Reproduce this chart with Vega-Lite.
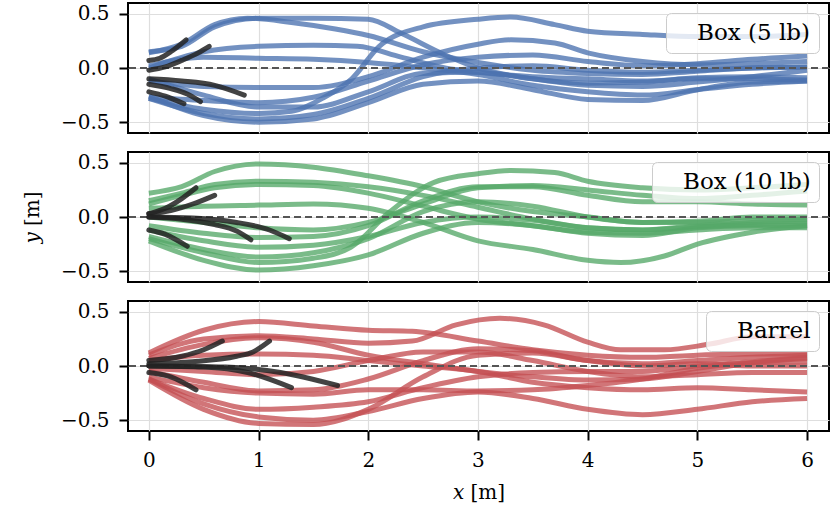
{
"$schema": "https://vega.github.io/schema/vega-lite/v6.json",
"padding": {"left": 21, "top": 2, "right": 1, "bottom": 2},
"config": {
  "font": "DejaVu Serif",
  "view": {"stroke": "black", "strokeWidth": 2},
  "axis": {"labelFont": "DejaVu Serif", "labelFontSize": 20, "labelColor": "black", "titleFont": "DejaVu Serif", "titleFontSize": 20, "titleFontWeight": "normal", "titleColor": "black", "gridColor": "#dedede", "gridWidth": 1.2, "domain": false, "tickColor": "black", "tickWidth": 2, "tickSize": 9, "labelPadding": 10},
  "legend": {"orient": "top-right", "offset": 10, "fillColor": "rgba(255,255,255,0.8)", "strokeColor": "#cccccc", "cornerRadius": 5, "padding": 8, "labelFont": "DejaVu Serif", "labelFontSize": 23, "labelColor": "black", "symbolOpacity": 0, "symbolSize": 0, "symbolStrokeWidth": 0, "labelOffset": 0},
  "concat": {"spacing": 17}
},
"datasets": {
"blue": [
{"id":"b1","s":"Box (5 lb)","x":0,"y":0.15},{"id":"b1","s":"Box (5 lb)","x":0.3,"y":0.2},{"id":"b1","s":"Box (5 lb)","x":0.6,"y":0.38},{"id":"b1","s":"Box (5 lb)","x":1,"y":0.46},{"id":"b1","s":"Box (5 lb)","x":1.5,"y":0.46},{"id":"b1","s":"Box (5 lb)","x":2,"y":0.45},{"id":"b1","s":"Box (5 lb)","x":2.3,"y":0.32},{"id":"b1","s":"Box (5 lb)","x":2.7,"y":0.12},{"id":"b1","s":"Box (5 lb)","x":3,"y":0},{"id":"b1","s":"Box (5 lb)","x":3.5,"y":-0.1},{"id":"b1","s":"Box (5 lb)","x":4,"y":-0.14},{"id":"b1","s":"Box (5 lb)","x":4.5,"y":-0.13},{"id":"b1","s":"Box (5 lb)","x":5,"y":-0.09},{"id":"b1","s":"Box (5 lb)","x":5.5,"y":-0.08},{"id":"b1","s":"Box (5 lb)","x":6,"y":-0.09},
{"id":"b2","s":"Box (5 lb)","x":0,"y":0.14},{"id":"b2","s":"Box (5 lb)","x":0.3,"y":0.22},{"id":"b2","s":"Box (5 lb)","x":0.6,"y":0.4},{"id":"b2","s":"Box (5 lb)","x":0.9,"y":0.46},{"id":"b2","s":"Box (5 lb)","x":1.3,"y":0.42},{"id":"b2","s":"Box (5 lb)","x":1.7,"y":0.36},{"id":"b2","s":"Box (5 lb)","x":2,"y":0.3},{"id":"b2","s":"Box (5 lb)","x":2.5,"y":0.15},{"id":"b2","s":"Box (5 lb)","x":3,"y":0.05},{"id":"b2","s":"Box (5 lb)","x":3.5,"y":-0.02},{"id":"b2","s":"Box (5 lb)","x":4,"y":-0.05},{"id":"b2","s":"Box (5 lb)","x":4.5,"y":-0.06},{"id":"b2","s":"Box (5 lb)","x":5,"y":-0.03},{"id":"b2","s":"Box (5 lb)","x":5.5,"y":0},{"id":"b2","s":"Box (5 lb)","x":6,"y":0.01},
{"id":"b3","s":"Box (5 lb)","x":0,"y":0},{"id":"b3","s":"Box (5 lb)","x":0.5,"y":0.15},{"id":"b3","s":"Box (5 lb)","x":1,"y":0.2},{"id":"b3","s":"Box (5 lb)","x":1.5,"y":0.21},{"id":"b3","s":"Box (5 lb)","x":1.9,"y":0.2},{"id":"b3","s":"Box (5 lb)","x":2.3,"y":0.1},{"id":"b3","s":"Box (5 lb)","x":2.7,"y":0},{"id":"b3","s":"Box (5 lb)","x":3,"y":-0.04},{"id":"b3","s":"Box (5 lb)","x":3.5,"y":-0.08},{"id":"b3","s":"Box (5 lb)","x":4,"y":-0.1},{"id":"b3","s":"Box (5 lb)","x":4.5,"y":-0.12},{"id":"b3","s":"Box (5 lb)","x":5,"y":-0.1},{"id":"b3","s":"Box (5 lb)","x":5.5,"y":-0.1},{"id":"b3","s":"Box (5 lb)","x":6,"y":-0.11},
{"id":"b4","s":"Box (5 lb)","x":0,"y":0.02},{"id":"b4","s":"Box (5 lb)","x":0.5,"y":0.1},{"id":"b4","s":"Box (5 lb)","x":1,"y":0.09},{"id":"b4","s":"Box (5 lb)","x":1.5,"y":0.08},{"id":"b4","s":"Box (5 lb)","x":2,"y":0.05},{"id":"b4","s":"Box (5 lb)","x":2.5,"y":0},{"id":"b4","s":"Box (5 lb)","x":3,"y":-0.06},{"id":"b4","s":"Box (5 lb)","x":3.5,"y":-0.16},{"id":"b4","s":"Box (5 lb)","x":4,"y":-0.22},{"id":"b4","s":"Box (5 lb)","x":4.5,"y":-0.25},{"id":"b4","s":"Box (5 lb)","x":5,"y":-0.2},{"id":"b4","s":"Box (5 lb)","x":5.5,"y":-0.15},{"id":"b4","s":"Box (5 lb)","x":6,"y":-0.12},
{"id":"b5","s":"Box (5 lb)","x":0,"y":-0.12},{"id":"b5","s":"Box (5 lb)","x":0.5,"y":-0.17},{"id":"b5","s":"Box (5 lb)","x":1,"y":-0.18},{"id":"b5","s":"Box (5 lb)","x":1.5,"y":-0.18},{"id":"b5","s":"Box (5 lb)","x":2,"y":-0.08},{"id":"b5","s":"Box (5 lb)","x":2.5,"y":0.1},{"id":"b5","s":"Box (5 lb)","x":3,"y":0.22},{"id":"b5","s":"Box (5 lb)","x":3.3,"y":0.26},{"id":"b5","s":"Box (5 lb)","x":3.7,"y":0.23},{"id":"b5","s":"Box (5 lb)","x":4,"y":0.14},{"id":"b5","s":"Box (5 lb)","x":4.5,"y":0.06},{"id":"b5","s":"Box (5 lb)","x":5,"y":0.03},{"id":"b5","s":"Box (5 lb)","x":5.5,"y":0.04},{"id":"b5","s":"Box (5 lb)","x":6,"y":0.06},
{"id":"b6","s":"Box (5 lb)","x":0,"y":-0.27},{"id":"b6","s":"Box (5 lb)","x":0.5,"y":-0.3},{"id":"b6","s":"Box (5 lb)","x":1,"y":-0.32},{"id":"b6","s":"Box (5 lb)","x":1.5,"y":-0.27},{"id":"b6","s":"Box (5 lb)","x":2,"y":-0.12},{"id":"b6","s":"Box (5 lb)","x":2.5,"y":0.03},{"id":"b6","s":"Box (5 lb)","x":3,"y":0.1},{"id":"b6","s":"Box (5 lb)","x":3.5,"y":0.12},{"id":"b6","s":"Box (5 lb)","x":4,"y":0.06},{"id":"b6","s":"Box (5 lb)","x":4.5,"y":0.02},{"id":"b6","s":"Box (5 lb)","x":5,"y":0.04},{"id":"b6","s":"Box (5 lb)","x":5.5,"y":0.08},{"id":"b6","s":"Box (5 lb)","x":6,"y":0.11},
{"id":"b7","s":"Box (5 lb)","x":0,"y":-0.28},{"id":"b7","s":"Box (5 lb)","x":0.5,"y":-0.38},{"id":"b7","s":"Box (5 lb)","x":1,"y":-0.42},{"id":"b7","s":"Box (5 lb)","x":1.3,"y":-0.4},{"id":"b7","s":"Box (5 lb)","x":1.6,"y":-0.27},{"id":"b7","s":"Box (5 lb)","x":1.85,"y":-0.1},{"id":"b7","s":"Box (5 lb)","x":2.1,"y":0.2},{"id":"b7","s":"Box (5 lb)","x":2.5,"y":0.38},{"id":"b7","s":"Box (5 lb)","x":3,"y":0.45},{"id":"b7","s":"Box (5 lb)","x":3.3,"y":0.47},{"id":"b7","s":"Box (5 lb)","x":3.7,"y":0.4},{"id":"b7","s":"Box (5 lb)","x":4,"y":0.34},{"id":"b7","s":"Box (5 lb)","x":4.5,"y":0.31},{"id":"b7","s":"Box (5 lb)","x":5,"y":0.29},{"id":"b7","s":"Box (5 lb)","x":5.5,"y":0.29},{"id":"b7","s":"Box (5 lb)","x":6,"y":0.31},
{"id":"b8","s":"Box (5 lb)","x":0,"y":-0.28},{"id":"b8","s":"Box (5 lb)","x":0.5,"y":-0.42},{"id":"b8","s":"Box (5 lb)","x":1,"y":-0.47},{"id":"b8","s":"Box (5 lb)","x":1.5,"y":-0.43},{"id":"b8","s":"Box (5 lb)","x":2,"y":-0.28},{"id":"b8","s":"Box (5 lb)","x":2.5,"y":-0.08},{"id":"b8","s":"Box (5 lb)","x":3,"y":0},{"id":"b8","s":"Box (5 lb)","x":3.5,"y":0.02},{"id":"b8","s":"Box (5 lb)","x":4,"y":-0.02},{"id":"b8","s":"Box (5 lb)","x":4.5,"y":-0.04},{"id":"b8","s":"Box (5 lb)","x":5,"y":-0.02},{"id":"b8","s":"Box (5 lb)","x":5.5,"y":0},{"id":"b8","s":"Box (5 lb)","x":6,"y":0.01},
{"id":"b9","s":"Box (5 lb)","x":0,"y":-0.26},{"id":"b9","s":"Box (5 lb)","x":0.5,"y":-0.44},{"id":"b9","s":"Box (5 lb)","x":1,"y":-0.5},{"id":"b9","s":"Box (5 lb)","x":1.5,"y":-0.47},{"id":"b9","s":"Box (5 lb)","x":2,"y":-0.32},{"id":"b9","s":"Box (5 lb)","x":2.5,"y":-0.15},{"id":"b9","s":"Box (5 lb)","x":3,"y":-0.12},{"id":"b9","s":"Box (5 lb)","x":3.5,"y":-0.2},{"id":"b9","s":"Box (5 lb)","x":4,"y":-0.29},{"id":"b9","s":"Box (5 lb)","x":4.5,"y":-0.3},{"id":"b9","s":"Box (5 lb)","x":5,"y":-0.2},{"id":"b9","s":"Box (5 lb)","x":5.5,"y":-0.13},{"id":"b9","s":"Box (5 lb)","x":6,"y":-0.12},
{"id":"b10","s":"Box (5 lb)","x":0,"y":-0.1},{"id":"b10","s":"Box (5 lb)","x":0.5,"y":-0.25},{"id":"b10","s":"Box (5 lb)","x":1,"y":-0.36},{"id":"b10","s":"Box (5 lb)","x":1.5,"y":-0.36},{"id":"b10","s":"Box (5 lb)","x":2,"y":-0.22},{"id":"b10","s":"Box (5 lb)","x":2.5,"y":-0.05},{"id":"b10","s":"Box (5 lb)","x":3,"y":-0.04},{"id":"b10","s":"Box (5 lb)","x":3.5,"y":-0.1},{"id":"b10","s":"Box (5 lb)","x":4,"y":-0.16},{"id":"b10","s":"Box (5 lb)","x":4.5,"y":-0.17},{"id":"b10","s":"Box (5 lb)","x":5,"y":-0.13},{"id":"b10","s":"Box (5 lb)","x":5.5,"y":-0.08},{"id":"b10","s":"Box (5 lb)","x":6,"y":-0.02}
],
"blueK": [
{"id":"k1","x":0,"y":0.07},{"id":"k1","x":0.1,"y":0.09},{"id":"k1","x":0.2,"y":0.15},{"id":"k1","x":0.34,"y":0.26},
{"id":"k2","x":0,"y":-0.02},{"id":"k2","x":0.15,"y":0.01},{"id":"k2","x":0.3,"y":0.07},{"id":"k2","x":0.45,"y":0.14},{"id":"k2","x":0.55,"y":0.2},
{"id":"k3","x":0,"y":-0.1},{"id":"k3","x":0.3,"y":-0.12},{"id":"k3","x":0.6,"y":-0.16},{"id":"k3","x":0.87,"y":-0.25},
{"id":"k4","x":0,"y":-0.15},{"id":"k4","x":0.2,"y":-0.19},{"id":"k4","x":0.35,"y":-0.24},{"id":"k4","x":0.47,"y":-0.31},
{"id":"k5","x":0,"y":-0.22},{"id":"k5","x":0.15,"y":-0.26},{"id":"k5","x":0.32,"y":-0.33}
],
"green": [
{"id":"g1","s":"Box (10 lb)","x":0,"y":0.22},{"id":"g1","s":"Box (10 lb)","x":0.3,"y":0.28},{"id":"g1","s":"Box (10 lb)","x":0.6,"y":0.42},{"id":"g1","s":"Box (10 lb)","x":1,"y":0.49},{"id":"g1","s":"Box (10 lb)","x":1.5,"y":0.46},{"id":"g1","s":"Box (10 lb)","x":2,"y":0.38},{"id":"g1","s":"Box (10 lb)","x":2.5,"y":0.28},{"id":"g1","s":"Box (10 lb)","x":3,"y":0.14},{"id":"g1","s":"Box (10 lb)","x":3.5,"y":0.05},{"id":"g1","s":"Box (10 lb)","x":4,"y":0},{"id":"g1","s":"Box (10 lb)","x":4.5,"y":-0.05},{"id":"g1","s":"Box (10 lb)","x":5,"y":-0.04},{"id":"g1","s":"Box (10 lb)","x":5.5,"y":0},{"id":"g1","s":"Box (10 lb)","x":6,"y":0},
{"id":"g2","s":"Box (10 lb)","x":0,"y":0.15},{"id":"g2","s":"Box (10 lb)","x":0.3,"y":0.22},{"id":"g2","s":"Box (10 lb)","x":0.6,"y":0.3},{"id":"g2","s":"Box (10 lb)","x":1,"y":0.33},{"id":"g2","s":"Box (10 lb)","x":1.5,"y":0.32},{"id":"g2","s":"Box (10 lb)","x":2,"y":0.28},{"id":"g2","s":"Box (10 lb)","x":2.5,"y":0.2},{"id":"g2","s":"Box (10 lb)","x":3,"y":0.09},{"id":"g2","s":"Box (10 lb)","x":3.5,"y":-0.02},{"id":"g2","s":"Box (10 lb)","x":4,"y":-0.1},{"id":"g2","s":"Box (10 lb)","x":4.5,"y":-0.12},{"id":"g2","s":"Box (10 lb)","x":5,"y":-0.09},{"id":"g2","s":"Box (10 lb)","x":5.5,"y":-0.07},{"id":"g2","s":"Box (10 lb)","x":6,"y":-0.06},
{"id":"g3","s":"Box (10 lb)","x":0,"y":0.12},{"id":"g3","s":"Box (10 lb)","x":0.3,"y":0.2},{"id":"g3","s":"Box (10 lb)","x":0.6,"y":0.27},{"id":"g3","s":"Box (10 lb)","x":1,"y":0.3},{"id":"g3","s":"Box (10 lb)","x":1.5,"y":0.29},{"id":"g3","s":"Box (10 lb)","x":2,"y":0.22},{"id":"g3","s":"Box (10 lb)","x":2.5,"y":0.1},{"id":"g3","s":"Box (10 lb)","x":3,"y":-0.02},{"id":"g3","s":"Box (10 lb)","x":3.5,"y":-0.08},{"id":"g3","s":"Box (10 lb)","x":4,"y":-0.14},{"id":"g3","s":"Box (10 lb)","x":4.5,"y":-0.15},{"id":"g3","s":"Box (10 lb)","x":5,"y":-0.12},{"id":"g3","s":"Box (10 lb)","x":5.5,"y":-0.1},{"id":"g3","s":"Box (10 lb)","x":6,"y":-0.1},
{"id":"g4","s":"Box (10 lb)","x":0,"y":0.08},{"id":"g4","s":"Box (10 lb)","x":0.5,"y":0.1},{"id":"g4","s":"Box (10 lb)","x":1,"y":0.11},{"id":"g4","s":"Box (10 lb)","x":1.5,"y":0.12},{"id":"g4","s":"Box (10 lb)","x":2,"y":0.08},{"id":"g4","s":"Box (10 lb)","x":2.5,"y":-0.05},{"id":"g4","s":"Box (10 lb)","x":3,"y":-0.22},{"id":"g4","s":"Box (10 lb)","x":3.5,"y":-0.3},{"id":"g4","s":"Box (10 lb)","x":4,"y":-0.4},{"id":"g4","s":"Box (10 lb)","x":4.3,"y":-0.42},{"id":"g4","s":"Box (10 lb)","x":4.7,"y":-0.36},{"id":"g4","s":"Box (10 lb)","x":5,"y":-0.25},{"id":"g4","s":"Box (10 lb)","x":5.5,"y":-0.14},{"id":"g4","s":"Box (10 lb)","x":6,"y":-0.08},
{"id":"g5","s":"Box (10 lb)","x":0,"y":-0.08},{"id":"g5","s":"Box (10 lb)","x":0.5,"y":-0.15},{"id":"g5","s":"Box (10 lb)","x":1,"y":-0.19},{"id":"g5","s":"Box (10 lb)","x":1.5,"y":-0.18},{"id":"g5","s":"Box (10 lb)","x":2,"y":-0.08},{"id":"g5","s":"Box (10 lb)","x":2.5,"y":0.15},{"id":"g5","s":"Box (10 lb)","x":3,"y":0.28},{"id":"g5","s":"Box (10 lb)","x":3.5,"y":0.28},{"id":"g5","s":"Box (10 lb)","x":4,"y":0.2},{"id":"g5","s":"Box (10 lb)","x":4.5,"y":0.14},{"id":"g5","s":"Box (10 lb)","x":5,"y":0.14},{"id":"g5","s":"Box (10 lb)","x":5.5,"y":0.12},{"id":"g5","s":"Box (10 lb)","x":6,"y":0.11},
{"id":"g6","s":"Box (10 lb)","x":0,"y":-0.2},{"id":"g6","s":"Box (10 lb)","x":0.5,"y":-0.33},{"id":"g6","s":"Box (10 lb)","x":1,"y":-0.42},{"id":"g6","s":"Box (10 lb)","x":1.5,"y":-0.38},{"id":"g6","s":"Box (10 lb)","x":1.84,"y":-0.28},{"id":"g6","s":"Box (10 lb)","x":2.2,"y":0.05},{"id":"g6","s":"Box (10 lb)","x":2.6,"y":0.32},{"id":"g6","s":"Box (10 lb)","x":3,"y":0.4},{"id":"g6","s":"Box (10 lb)","x":3.3,"y":0.43},{"id":"g6","s":"Box (10 lb)","x":3.7,"y":0.41},{"id":"g6","s":"Box (10 lb)","x":4,"y":0.33},{"id":"g6","s":"Box (10 lb)","x":4.5,"y":0.27},{"id":"g6","s":"Box (10 lb)","x":5,"y":0.25},{"id":"g6","s":"Box (10 lb)","x":5.5,"y":0.27},{"id":"g6","s":"Box (10 lb)","x":6,"y":0.3},
{"id":"g7","s":"Box (10 lb)","x":0,"y":-0.18},{"id":"g7","s":"Box (10 lb)","x":0.5,"y":-0.3},{"id":"g7","s":"Box (10 lb)","x":1,"y":-0.37},{"id":"g7","s":"Box (10 lb)","x":1.5,"y":-0.33},{"id":"g7","s":"Box (10 lb)","x":2,"y":-0.2},{"id":"g7","s":"Box (10 lb)","x":2.5,"y":0.05},{"id":"g7","s":"Box (10 lb)","x":3,"y":0.14},{"id":"g7","s":"Box (10 lb)","x":3.5,"y":0.1},{"id":"g7","s":"Box (10 lb)","x":4,"y":0},{"id":"g7","s":"Box (10 lb)","x":4.5,"y":-0.05},{"id":"g7","s":"Box (10 lb)","x":5,"y":-0.05},{"id":"g7","s":"Box (10 lb)","x":5.5,"y":-0.03},{"id":"g7","s":"Box (10 lb)","x":6,"y":-0.02},
{"id":"g8","s":"Box (10 lb)","x":0,"y":-0.12},{"id":"g8","s":"Box (10 lb)","x":0.5,"y":-0.22},{"id":"g8","s":"Box (10 lb)","x":1,"y":-0.28},{"id":"g8","s":"Box (10 lb)","x":1.5,"y":-0.26},{"id":"g8","s":"Box (10 lb)","x":2,"y":-0.18},{"id":"g8","s":"Box (10 lb)","x":2.5,"y":-0.05},{"id":"g8","s":"Box (10 lb)","x":3,"y":0},{"id":"g8","s":"Box (10 lb)","x":3.5,"y":-0.03},{"id":"g8","s":"Box (10 lb)","x":4,"y":-0.1},{"id":"g8","s":"Box (10 lb)","x":4.5,"y":-0.12},{"id":"g8","s":"Box (10 lb)","x":5,"y":-0.08},{"id":"g8","s":"Box (10 lb)","x":5.5,"y":-0.05},{"id":"g8","s":"Box (10 lb)","x":6,"y":-0.04},
{"id":"g9","s":"Box (10 lb)","x":0,"y":-0.22},{"id":"g9","s":"Box (10 lb)","x":0.5,"y":-0.4},{"id":"g9","s":"Box (10 lb)","x":1,"y":-0.49},{"id":"g9","s":"Box (10 lb)","x":1.5,"y":-0.45},{"id":"g9","s":"Box (10 lb)","x":2,"y":-0.35},{"id":"g9","s":"Box (10 lb)","x":2.5,"y":-0.15},{"id":"g9","s":"Box (10 lb)","x":3,"y":-0.05},{"id":"g9","s":"Box (10 lb)","x":3.5,"y":-0.08},{"id":"g9","s":"Box (10 lb)","x":4,"y":-0.15},{"id":"g9","s":"Box (10 lb)","x":4.5,"y":-0.17},{"id":"g9","s":"Box (10 lb)","x":5,"y":-0.1},{"id":"g9","s":"Box (10 lb)","x":5.5,"y":-0.08},{"id":"g9","s":"Box (10 lb)","x":6,"y":-0.08},
{"id":"g10","s":"Box (10 lb)","x":0,"y":0},{"id":"g10","s":"Box (10 lb)","x":0.5,"y":-0.05},{"id":"g10","s":"Box (10 lb)","x":1,"y":-0.1},{"id":"g10","s":"Box (10 lb)","x":1.5,"y":-0.12},{"id":"g10","s":"Box (10 lb)","x":2,"y":-0.05},{"id":"g10","s":"Box (10 lb)","x":2.5,"y":0.12},{"id":"g10","s":"Box (10 lb)","x":3,"y":0.27},{"id":"g10","s":"Box (10 lb)","x":3.5,"y":0.29},{"id":"g10","s":"Box (10 lb)","x":4,"y":0.25},{"id":"g10","s":"Box (10 lb)","x":4.5,"y":0.2},{"id":"g10","s":"Box (10 lb)","x":5,"y":0.17},{"id":"g10","s":"Box (10 lb)","x":5.5,"y":0.2},{"id":"g10","s":"Box (10 lb)","x":6,"y":0.24}
],
"greenK": [
{"id":"k1","x":0,"y":0.03},{"id":"k1","x":0.15,"y":0.08},{"id":"k1","x":0.3,"y":0.17},{"id":"k1","x":0.43,"y":0.27},
{"id":"k2","x":0,"y":0.03},{"id":"k2","x":0.2,"y":0.06},{"id":"k2","x":0.4,"y":0.12},{"id":"k2","x":0.6,"y":0.2},
{"id":"k3","x":0,"y":0},{"id":"k3","x":0.3,"y":-0.02},{"id":"k3","x":0.6,"y":-0.07},{"id":"k3","x":0.8,"y":-0.13},{"id":"k3","x":0.93,"y":-0.21},
{"id":"k4","x":0,"y":0},{"id":"k4","x":0.4,"y":-0.01},{"id":"k4","x":0.8,"y":-0.05},{"id":"k4","x":1.1,"y":-0.12},{"id":"k4","x":1.28,"y":-0.2},
{"id":"k5","x":0,"y":-0.12},{"id":"k5","x":0.15,"y":-0.16},{"id":"k5","x":0.35,"y":-0.27}
],
"red": [
{"id":"r1","s":"Barrel","x":0,"y":0.12},{"id":"r1","s":"Barrel","x":0.5,"y":0.33},{"id":"r1","s":"Barrel","x":1,"y":0.41},{"id":"r1","s":"Barrel","x":1.5,"y":0.37},{"id":"r1","s":"Barrel","x":2,"y":0.33},{"id":"r1","s":"Barrel","x":2.4,"y":0.32},{"id":"r1","s":"Barrel","x":3,"y":0.23},{"id":"r1","s":"Barrel","x":3.5,"y":0.15},{"id":"r1","s":"Barrel","x":4,"y":0.1},{"id":"r1","s":"Barrel","x":4.5,"y":0.08},{"id":"r1","s":"Barrel","x":5,"y":0.1},{"id":"r1","s":"Barrel","x":5.5,"y":0.11},{"id":"r1","s":"Barrel","x":6,"y":0.11},
{"id":"r2","s":"Barrel","x":0,"y":0.1},{"id":"r2","s":"Barrel","x":0.5,"y":0.25},{"id":"r2","s":"Barrel","x":1,"y":0.28},{"id":"r2","s":"Barrel","x":1.5,"y":0.25},{"id":"r2","s":"Barrel","x":2,"y":0.21},{"id":"r2","s":"Barrel","x":2.4,"y":0.23},{"id":"r2","s":"Barrel","x":2.8,"y":0.38},{"id":"r2","s":"Barrel","x":3.2,"y":0.44},{"id":"r2","s":"Barrel","x":3.6,"y":0.38},{"id":"r2","s":"Barrel","x":4,"y":0.22},{"id":"r2","s":"Barrel","x":4.3,"y":0.15},{"id":"r2","s":"Barrel","x":4.7,"y":0.15},{"id":"r2","s":"Barrel","x":5.1,"y":0.2},{"id":"r2","s":"Barrel","x":5.5,"y":0.27},{"id":"r2","s":"Barrel","x":6,"y":0.27},
{"id":"r3","s":"Barrel","x":0,"y":0.07},{"id":"r3","s":"Barrel","x":0.5,"y":0.2},{"id":"r3","s":"Barrel","x":1,"y":0.26},{"id":"r3","s":"Barrel","x":1.5,"y":0.22},{"id":"r3","s":"Barrel","x":2,"y":0.1},{"id":"r3","s":"Barrel","x":2.5,"y":0.02},{"id":"r3","s":"Barrel","x":3,"y":-0.05},{"id":"r3","s":"Barrel","x":3.5,"y":-0.1},{"id":"r3","s":"Barrel","x":4,"y":-0.13},{"id":"r3","s":"Barrel","x":4.5,"y":-0.12},{"id":"r3","s":"Barrel","x":5,"y":-0.05},{"id":"r3","s":"Barrel","x":5.5,"y":0.03},{"id":"r3","s":"Barrel","x":6,"y":0.07},
{"id":"r4","s":"Barrel","x":0,"y":0.05},{"id":"r4","s":"Barrel","x":0.5,"y":0.1},{"id":"r4","s":"Barrel","x":1,"y":0.11},{"id":"r4","s":"Barrel","x":1.5,"y":0.1},{"id":"r4","s":"Barrel","x":2,"y":0.05},{"id":"r4","s":"Barrel","x":2.5,"y":0},{"id":"r4","s":"Barrel","x":3,"y":-0.05},{"id":"r4","s":"Barrel","x":3.5,"y":-0.15},{"id":"r4","s":"Barrel","x":4,"y":-0.2},{"id":"r4","s":"Barrel","x":4.5,"y":-0.22},{"id":"r4","s":"Barrel","x":5,"y":-0.2},{"id":"r4","s":"Barrel","x":5.5,"y":-0.22},{"id":"r4","s":"Barrel","x":6,"y":-0.24},
{"id":"r5","s":"Barrel","x":0,"y":-0.02},{"id":"r5","s":"Barrel","x":0.5,"y":-0.05},{"id":"r5","s":"Barrel","x":1,"y":-0.08},{"id":"r5","s":"Barrel","x":1.5,"y":-0.05},{"id":"r5","s":"Barrel","x":2,"y":0.05},{"id":"r5","s":"Barrel","x":2.5,"y":0.13},{"id":"r5","s":"Barrel","x":3,"y":0.13},{"id":"r5","s":"Barrel","x":3.5,"y":0.05},{"id":"r5","s":"Barrel","x":4,"y":-0.05},{"id":"r5","s":"Barrel","x":4.5,"y":-0.1},{"id":"r5","s":"Barrel","x":5,"y":-0.08},{"id":"r5","s":"Barrel","x":5.5,"y":-0.06},{"id":"r5","s":"Barrel","x":6,"y":-0.06},
{"id":"r6","s":"Barrel","x":0,"y":-0.05},{"id":"r6","s":"Barrel","x":0.5,"y":-0.15},{"id":"r6","s":"Barrel","x":1,"y":-0.23},{"id":"r6","s":"Barrel","x":1.5,"y":-0.22},{"id":"r6","s":"Barrel","x":2,"y":-0.12},{"id":"r6","s":"Barrel","x":2.5,"y":0.05},{"id":"r6","s":"Barrel","x":3,"y":0.16},{"id":"r6","s":"Barrel","x":3.5,"y":0.14},{"id":"r6","s":"Barrel","x":4,"y":0.05},{"id":"r6","s":"Barrel","x":4.5,"y":0.02},{"id":"r6","s":"Barrel","x":5,"y":0.05},{"id":"r6","s":"Barrel","x":5.5,"y":0.08},{"id":"r6","s":"Barrel","x":6,"y":0.1},
{"id":"r7","s":"Barrel","x":0,"y":-0.1},{"id":"r7","s":"Barrel","x":0.5,"y":-0.2},{"id":"r7","s":"Barrel","x":1,"y":-0.25},{"id":"r7","s":"Barrel","x":1.5,"y":-0.26},{"id":"r7","s":"Barrel","x":2,"y":-0.22},{"id":"r7","s":"Barrel","x":2.5,"y":-0.22},{"id":"r7","s":"Barrel","x":3,"y":-0.23},{"id":"r7","s":"Barrel","x":3.5,"y":-0.22},{"id":"r7","s":"Barrel","x":4,"y":-0.18},{"id":"r7","s":"Barrel","x":4.5,"y":-0.12},{"id":"r7","s":"Barrel","x":5,"y":-0.02},{"id":"r7","s":"Barrel","x":5.5,"y":0.03},{"id":"r7","s":"Barrel","x":6,"y":0.04},
{"id":"r8","s":"Barrel","x":0,"y":-0.12},{"id":"r8","s":"Barrel","x":0.5,"y":-0.3},{"id":"r8","s":"Barrel","x":1,"y":-0.4},{"id":"r8","s":"Barrel","x":1.5,"y":-0.38},{"id":"r8","s":"Barrel","x":2,"y":-0.33},{"id":"r8","s":"Barrel","x":2.5,"y":-0.2},{"id":"r8","s":"Barrel","x":3,"y":-0.1},{"id":"r8","s":"Barrel","x":3.5,"y":-0.06},{"id":"r8","s":"Barrel","x":4,"y":-0.05},{"id":"r8","s":"Barrel","x":4.5,"y":-0.05},{"id":"r8","s":"Barrel","x":5,"y":0},{"id":"r8","s":"Barrel","x":5.5,"y":0.04},{"id":"r8","s":"Barrel","x":6,"y":0.08},
{"id":"r9","s":"Barrel","x":0,"y":-0.12},{"id":"r9","s":"Barrel","x":0.5,"y":-0.35},{"id":"r9","s":"Barrel","x":1,"y":-0.47},{"id":"r9","s":"Barrel","x":1.5,"y":-0.5},{"id":"r9","s":"Barrel","x":2,"y":-0.42},{"id":"r9","s":"Barrel","x":2.5,"y":-0.3},{"id":"r9","s":"Barrel","x":3,"y":-0.24},{"id":"r9","s":"Barrel","x":3.5,"y":-0.3},{"id":"r9","s":"Barrel","x":4,"y":-0.4},{"id":"r9","s":"Barrel","x":4.5,"y":-0.45},{"id":"r9","s":"Barrel","x":5,"y":-0.4},{"id":"r9","s":"Barrel","x":5.5,"y":-0.33},{"id":"r9","s":"Barrel","x":6,"y":-0.3},
{"id":"r10","s":"Barrel","x":0,"y":-0.13},{"id":"r10","s":"Barrel","x":0.5,"y":-0.4},{"id":"r10","s":"Barrel","x":1,"y":-0.53},{"id":"r10","s":"Barrel","x":1.5,"y":-0.54},{"id":"r10","s":"Barrel","x":2,"y":-0.4},{"id":"r10","s":"Barrel","x":2.5,"y":-0.1},{"id":"r10","s":"Barrel","x":3,"y":0.1},{"id":"r10","s":"Barrel","x":3.5,"y":0.12},{"id":"r10","s":"Barrel","x":4,"y":0.05},{"id":"r10","s":"Barrel","x":4.5,"y":0},{"id":"r10","s":"Barrel","x":5,"y":0.02},{"id":"r10","s":"Barrel","x":5.5,"y":0},{"id":"r10","s":"Barrel","x":6,"y":0}
],
"redK": [
{"id":"k1","x":0,"y":0.05},{"id":"k1","x":0.3,"y":0.09},{"id":"k1","x":0.5,"y":0.15},{"id":"k1","x":0.67,"y":0.23},
{"id":"k2","x":0,"y":0.02},{"id":"k2","x":0.4,"y":0.04},{"id":"k2","x":0.8,"y":0.09},{"id":"k2","x":0.95,"y":0.13},{"id":"k2","x":1.1,"y":0.23},
{"id":"k3","x":0,"y":0},{"id":"k3","x":0.5,"y":-0.01},{"id":"k3","x":0.9,"y":-0.06},{"id":"k3","x":1.3,"y":-0.2},
{"id":"k4","x":0,"y":0},{"id":"k4","x":0.7,"y":-0.01},{"id":"k4","x":1.2,"y":-0.06},{"id":"k4","x":1.72,"y":-0.18},
{"id":"k5","x":0,"y":-0.06},{"id":"k5","x":0.2,"y":-0.1},{"id":"k5","x":0.43,"y":-0.22}
]
},
"vconcat": [
{"width": 701, "height": 130, "layer": [
 {"data": {"name": "blue"}, "mark": {"type": "line", "interpolate": "monotone", "strokeWidth": 5, "opacity": 0.78},
  "encoding": {
   "x": {"field": "x", "type": "quantitative", "scale": {"domain": [-0.19, 6.2], "nice": false, "zero": false}, "axis": {"values": [0,1,2,3,4,5,6], "labels": false, "ticks": false, "title": null}},
   "y": {"field": "y", "type": "quantitative", "scale": {"domain": [-0.6, 0.6], "nice": false, "zero": false}, "axis": {"values": [-0.5, 0, 0.5], "format": ".1f", "title": null}},
   "color": {"field": "s", "type": "nominal", "scale": {"range": ["#4c72b0"]}, "legend": {"title": null}},
   "detail": {"field": "id"}}},
 {"data": {"values": [{"y": 0}]}, "mark": {"type": "rule", "strokeDash": [7, 4], "color": "#555555", "strokeWidth": 2},
  "encoding": {"y": {"field": "y", "type": "quantitative"}}},
 {"data": {"name": "blueK"}, "mark": {"type": "line", "interpolate": "monotone", "strokeWidth": 5, "opacity": 0.85, "color": "#222222", "strokeCap": "round"},
  "encoding": {"x": {"field": "x", "type": "quantitative"}, "y": {"field": "y", "type": "quantitative"}, "detail": {"field": "id"}}}
]},
{"width": 701, "height": 130, "layer": [
 {"data": {"name": "green"}, "mark": {"type": "line", "interpolate": "monotone", "strokeWidth": 5, "opacity": 0.78},
  "encoding": {
   "x": {"field": "x", "type": "quantitative", "scale": {"domain": [-0.19, 6.2], "nice": false, "zero": false}, "axis": {"values": [0,1,2,3,4,5,6], "labels": false, "ticks": false, "title": null}},
   "y": {"field": "y", "type": "quantitative", "scale": {"domain": [-0.6, 0.6], "nice": false, "zero": false}, "axis": {"values": [-0.5, 0, 0.5], "format": ".1f", "title": "𝑦 [m]", "titlePadding": 18}},
   "color": {"field": "s", "type": "nominal", "scale": {"range": ["#55a868"]}, "legend": {"title": null}},
   "detail": {"field": "id"}}},
 {"data": {"values": [{"y": 0}]}, "mark": {"type": "rule", "strokeDash": [7, 4], "color": "#555555", "strokeWidth": 2},
  "encoding": {"y": {"field": "y", "type": "quantitative"}}},
 {"data": {"name": "greenK"}, "mark": {"type": "line", "interpolate": "monotone", "strokeWidth": 5, "opacity": 0.85, "color": "#222222", "strokeCap": "round"},
  "encoding": {"x": {"field": "x", "type": "quantitative"}, "y": {"field": "y", "type": "quantitative"}, "detail": {"field": "id"}}}
]},
{"width": 701, "height": 130, "layer": [
 {"data": {"name": "red"}, "mark": {"type": "line", "interpolate": "monotone", "strokeWidth": 5, "opacity": 0.78},
  "encoding": {
   "x": {"field": "x", "type": "quantitative", "scale": {"domain": [-0.19, 6.2], "nice": false, "zero": false}, "axis": {"values": [0,1,2,3,4,5,6], "format": "d", "title": "𝑥 [m]", "titlePadding": 12}},
   "y": {"field": "y", "type": "quantitative", "scale": {"domain": [-0.6, 0.6], "nice": false, "zero": false}, "axis": {"values": [-0.5, 0, 0.5], "format": ".1f", "title": null}},
   "color": {"field": "s", "type": "nominal", "scale": {"range": ["#c44e52"]}, "legend": {"title": null}},
   "detail": {"field": "id"}}},
 {"data": {"values": [{"y": 0}]}, "mark": {"type": "rule", "strokeDash": [7, 4], "color": "#555555", "strokeWidth": 2},
  "encoding": {"y": {"field": "y", "type": "quantitative"}}},
 {"data": {"name": "redK"}, "mark": {"type": "line", "interpolate": "monotone", "strokeWidth": 5, "opacity": 0.85, "color": "#222222", "strokeCap": "round"},
  "encoding": {"x": {"field": "x", "type": "quantitative"}, "y": {"field": "y", "type": "quantitative"}, "detail": {"field": "id"}}}
]}
],
"resolve": {"scale": {"color": "independent"}, "legend": {"color": "independent"}}
}
